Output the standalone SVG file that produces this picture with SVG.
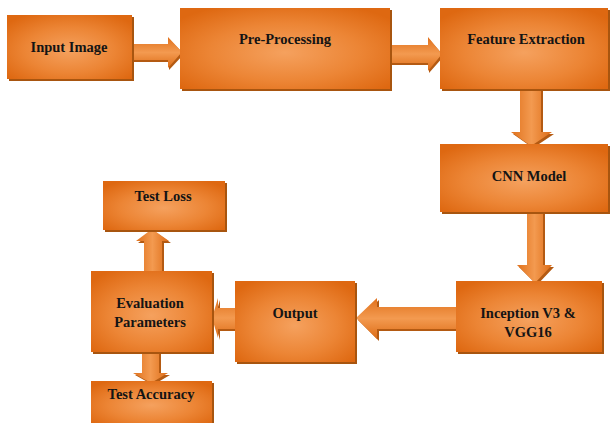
<svg xmlns="http://www.w3.org/2000/svg" width="611" height="423" viewBox="0 0 611 423">
<style>
.box{fill:url(#boxGrad);}
.sh{fill:#A8550F;}
.ah{fill:url(#arrH);}
.av{fill:url(#arrV);}
.ash{fill:#B45A12;}
text{font-family:"Liberation Serif","Times New Roman",serif;font-weight:bold;font-size:14.5px;fill:#141414;text-anchor:middle;}
</style>
<defs>
<radialGradient id="boxGrad" cx="50%" cy="55%" r="65%">
<stop offset="0" stop-color="#F5A15E"/>
<stop offset="0.55" stop-color="#EC8535"/>
<stop offset="1" stop-color="#DE6811"/>
</radialGradient>
<linearGradient id="arrH" x1="0" y1="0" x2="0" y2="1">
<stop offset="0" stop-color="#E0711C"/>
<stop offset="0.5" stop-color="#F39A50"/>
<stop offset="1" stop-color="#DD6C16"/>
</linearGradient>
<linearGradient id="arrV" x1="0" y1="0" x2="1" y2="0">
<stop offset="0" stop-color="#E0711C"/>
<stop offset="0.5" stop-color="#F39A50"/>
<stop offset="1" stop-color="#DD6C16"/>
</linearGradient>
</defs>
<g id="connectors">
<polygon class="ash" points="133,46 169,46 169,39 184,54 169,70 169,62 133,62"/>
<polygon class="ah" points="132,44 168,44 168,37 182,52 168,68 168,60 132,60"/>
<polygon class="ash" points="391,47 429,47 429,39 444,56 429,73 429,65 391,65"/>
<polygon class="ah" points="390,45 428,45 428,37 442,54 428,71 428,63 390,63"/>
<polygon class="ash" points="522,90 543,90 543,134 554,134 533,148 513,134 522,134"/>
<polygon class="av" points="520,89 541,89 541,132 552,132 531,146 511,132 520,132"/>
<polygon class="ash" points="529,213 545,213 545,267 554,267 537,285 519,267 529,267"/>
<polygon class="av" points="527,212 543,212 543,265 552,265 535,283 517,265 527,265"/>
<polygon class="ash" points="457,309 379,309 379,300 358,320 379,341 379,331 457,331"/>
<polygon class="ah" points="456,307 377,307 377,298 356,318 377,339 377,329 456,329"/>
<polygon class="ash" points="236,310 220,310 220,300 214,320 220,340 220,331 236,331"/>
<polygon class="ah" points="235,308 218,308 218,298 212,318 218,338 218,329 235,329"/>
<polygon class="ash" points="146,272 146,243 138,243 154,231 171,243 164,243 164,272"/>
<polygon class="av" points="144,271 144,241 136,241 152,229 169,241 162,241 162,271"/>
<polygon class="ash" points="144,353 144,375 135,375 153,385 170,375 161,375 161,353"/>
<polygon class="av" points="142,352 142,373 133,373 151,383 168,373 159,373 159,352"/>
</g>
<g id="input-image">
<rect class="sh" x="9" y="17" width="125" height="64"/>
<rect class="box" x="7" y="15" width="125" height="64"/>
<text x="69" y="52">Input Image</text>
</g>
<g id="pre-processing">
<rect class="sh" x="182" y="10" width="210" height="81"/>
<rect class="box" x="180" y="8" width="210" height="81"/>
<text x="285" y="44">Pre-Processing</text>
</g>
<g id="feature-extraction">
<rect class="sh" x="442" y="10" width="168" height="81"/>
<rect class="box" x="440" y="8" width="168" height="81"/>
<text x="526" y="44">Feature Extraction</text>
</g>
<g id="cnn-model">
<rect class="sh" x="442" y="146" width="168" height="68"/>
<rect class="box" x="440" y="144" width="168" height="68"/>
<text x="529" y="181">CNN Model</text>
</g>
<g id="inception-vgg16">
<rect class="sh" x="458" y="283" width="146" height="71"/>
<rect class="box" x="456" y="281" width="146" height="71"/>
<text x="528" y="318">Inception V3 &amp;</text>
<text x="528" y="337">VGG16</text>
</g>
<g id="output">
<rect class="sh" x="237" y="283" width="120" height="81"/>
<rect class="box" x="235" y="281" width="120" height="81"/>
<text x="295" y="318">Output</text>
</g>
<g id="evaluation-parameters">
<rect class="sh" x="93" y="273" width="121" height="81"/>
<rect class="box" x="91" y="271" width="121" height="81"/>
<text x="150" y="308">Evaluation</text>
<text x="150" y="327">Parameters</text>
</g>
<g id="test-loss">
<rect class="sh" x="105" y="183" width="122" height="49"/>
<rect class="box" x="103" y="181" width="122" height="49"/>
<text x="163" y="201">Test Loss</text>
</g>
<g id="test-accuracy">
<rect class="sh" x="93" y="383" width="121" height="42"/>
<rect class="box" x="91" y="381" width="121" height="44"/>
<text x="151" y="399">Test Accuracy</text>
</g>
</svg>
